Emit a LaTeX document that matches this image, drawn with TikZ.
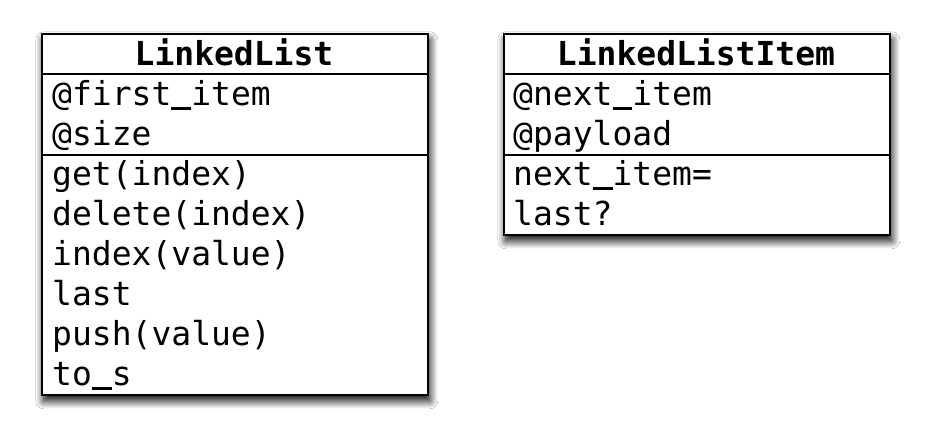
\documentclass[tikz,border=0pt]{standalone}
\usepackage{fontspec}
\setmonofont{DejaVu Sans Mono}
\usetikzlibrary{shadows.blur}
\newcommand{\us}{\makebox[0.602em][l]{\rule[-0.15em]{0.602em}{0.085em}}}
\begin{document}
\begin{tikzpicture}[x=1pt,y=-1pt,
  classbox/.style={draw=black, line width=1.6pt, fill=white, rectangle, inner sep=0pt, anchor=north west,
    blur shadow={shadow xshift=2pt, shadow yshift=-6pt, shadow blur radius=8pt, shadow opacity=100, shadow blur steps=12}},
  sepline/.style={draw=black, line width=1.4pt},
  member/.style={anchor=base west, inner sep=0pt, font=\fontsize{33}{40}\selectfont\ttfamily},
  title/.style={anchor=base, inner sep=0pt, font=\fontsize{33}{40}\selectfont\ttfamily\bfseries}]
\useasboundingbox (0,0) rectangle (928,442);
\fill[white] (0,0) rectangle (928,442);
% LinkedList
\node[classbox, minimum width=386pt, minimum height=361pt] (ll) at (41,33) {};
\coordinate (llh) at (41,74);
\coordinate (lla) at (41,155);
\draw[sepline] (llh) -- (llh -| ll.east);
\draw[sepline] (lla) -- (lla -| ll.east);
\node[title] (llt) at (234,65) {LinkedList};
\node[member] (ll1) at (52,105) {@first\us item};
\node[member] (ll2) at (52,145) {@size};
\node[member] (ll3) at (52,185) {get(index)};
\node[member] (ll4) at (52,225) {delete(index)};
\node[member] (ll5) at (52,265) {index(value)};
\node[member] (ll6) at (52,305) {last};
\node[member] (ll7) at (52,345) {push(value)};
\node[member] (ll8) at (52,385) {to\us s};
% LinkedListItem
\node[classbox, minimum width=386pt, minimum height=201pt] (li) at (503,33) {};
\coordinate (lih) at (503,74);
\coordinate (lia) at (503,155);
\draw[sepline] (lih) -- (lih -| li.east);
\draw[sepline] (lia) -- (lia -| li.east);
\node[title] (lit) at (696,65) {LinkedListItem};
\node[member] (li1) at (513,105) {@next\us item};
\node[member] (li2) at (513,145) {@payload};
\node[member] (li3) at (513,185) {next\us item=};
\node[member] (li4) at (513,225) {last?};
\end{tikzpicture}
\end{document}
